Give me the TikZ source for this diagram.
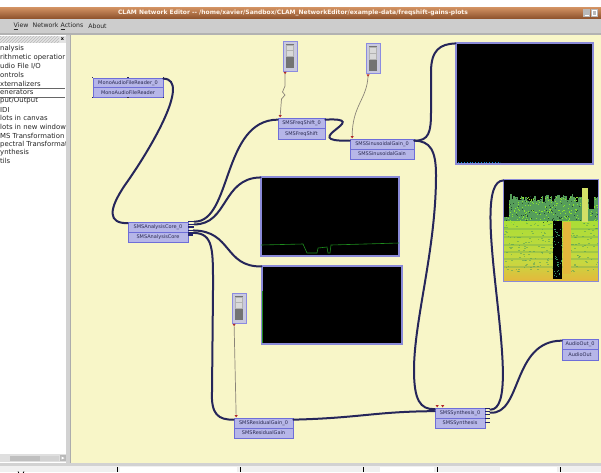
\documentclass[tikz,border=0pt]{standalone}
\usepackage{fontspec}
\setmainfont{DejaVu Sans}
\usetikzlibrary{calc,patterns}
\definecolor{canvas}{HTML}{F8F6C8}
\definecolor{wire}{HTML}{26265A}
\definecolor{pfill}{HTML}{B6B6E8}
\definecolor{pborder}{HTML}{6E6ED8}
\definecolor{ptext}{HTML}{2A2A50}
\definecolor{ctrlw}{HTML}{8A8478}
\definecolor{ctrlred}{HTML}{B02828}
\definecolor{tbtop}{HTML}{D49464}
\definecolor{tbbot}{HTML}{8E522C}
\definecolor{menubg}{HTML}{CDCDCD}
\definecolor{plotb}{HTML}{8A8AD8}
\definecolor{spgreen}{HTML}{3A9060}
\definecolor{spyel}{HTML}{C8D840}
\definecolor{sporange}{HTML}{E4B83C}
\definecolor{spdark}{HTML}{183828}
\definecolor{plotgreen}{HTML}{1E8C1E}
\begin{document}
\begin{tikzpicture}[x=1pt,y=-1pt,
  wire/.style={draw=wire,line width=2pt,line cap=round},
  ctrl/.style={draw=ctrlw,line width=0.7pt},
  proc/.style={draw=pborder,fill=pfill,line width=0.7pt,inner sep=0pt,text=ptext,font=\fontsize{5}{5}\selectfont,minimum height=10},
  plotbox/.style={fill=black,draw=plotb,line width=1.1pt,inner sep=0pt},
  slider/.style={fill=pfill!70!gray!60,draw=pborder!80,line width=0.8pt,inner sep=0pt,minimum width=14,minimum height=30},
  listitem/.style={anchor=west,inner sep=0pt,font=\fontsize{6.9}{7}\selectfont,text=black!85},
  menuitem/.style={inner sep=0pt,font=\fontsize{6.2}{7}\selectfont,text=black!85},
  ctri/.pic={\fill[ctrlred] (-1.6,-1.1) -- (1.6,-1.1) -- (0,1.3) -- cycle;},
  port/.style={fill=wire!90!blue}
]
\useasboundingbox (0,0) rectangle (601,472);
\fill[white] (0,0) rectangle (601,472);
% ---------- title bar ----------
\shade[top color=tbtop,bottom color=tbbot] (0,7) rectangle (601,18.5);
\node[inner sep=0pt,font=\fontsize{6}{7}\selectfont\bfseries,text=white!92!orange] (title) at (293,13)
  {CLAM Network Editor {-}{-} /home/xavier/Sandbox/CLAM\_NetworkEditor/example-data/freqshift-gains-plots};
\fill[gray!55] (583,9) rectangle (590,16.5);
\fill[gray!55] (591,9) rectangle (598,16.5);
\draw[white,line width=0.6] (584.5,15) -- (588.5,15);
\draw[white,line width=0.5] (592.5,10.5) rectangle (596.5,15);
% ---------- menu bar ----------
\fill[menubg] (0,18.5) rectangle (601,32.5);
\fill[gray!60] (0,32.5) rectangle (601,35);
\node[menuitem] (mview) at (21,26) {\underline{V}iew};
\node[menuitem] (mnet) at (58,26) {Network \underline{A}ctions};
\node[menuitem] (mabout) at (97.5,26) {About};
% ---------- left panel ----------
\fill[white] (0,35) rectangle (67,454);
\fill[gray!22] (0,36) rectangle (66,42.5);
\fill[pattern=north east lines,pattern color=gray!55] (0,36) rectangle (59,42.5);
\node[inner sep=0pt,font=\fontsize{5}{5}\selectfont\bfseries] (xbtn) at (62.5,39.3) {x};
\begin{scope}
\clip (0,35) rectangle (66,454);
\node[listitem] (l1) at (0,49) {nalysis};
\node[listitem] (l2) at (0,57.7) {rithmetic operatior};
\node[listitem] (l3) at (0,66.3) {udio File I/O};
\node[listitem] (l4) at (0,75) {ontrols};
\node[listitem] (l5) at (0,83.6) {xternalizers};
\node[listitem] (l6) at (0,92.3) {enerators};
\node[listitem] (l7) at (0,100.9) {put/Output};
\node[listitem] (l8) at (0,109.5) {IDI};
\node[listitem] (l9) at (0,118.2) {lots in canvas};
\node[listitem] (l10) at (0,126.8) {lots in new window};
\node[listitem] (l11) at (0,135.5) {MS Transformation};
\node[listitem] (l12) at (0,144.1) {pectral Transformation};
\node[listitem] (l13) at (0,152.8) {ynthesis};
\node[listitem] (l14) at (0,161.4) {tils};
\end{scope}
\draw[black!60,line width=0.6] (0,87.8) -- (65,87.8) (0,97) -- (65,97);
% panel scrollbar
\fill[gray!25] (0,454) rectangle (67,462);
\fill[gray!50] (10,455.5) rectangle (40,460.5);
\fill[gray!35] (40,455.5) rectangle (59,460.5);
\fill[gray!55] (60,455) rectangle (66,461);
\fill[white] (61.5,456.5) -- (64.5,458) -- (61.5,459.5) -- cycle;
% divider
\fill[gray!35] (66,35) rectangle (71,463);
\draw[gray!65,line width=0.6] (70.6,35) -- (70.6,463);
% ---------- canvas ----------
\fill[canvas] (71,35) rectangle (601,463);
% bottom status bar
\fill[gray!35] (0,463) rectangle (601,466);
\fill[gray!12] (0,466) rectangle (601,472);
\fill[white] (120,467) rectangle (237,472);
\fill[white] (380,467) rectangle (434,472);
\fill[white] (500,467) rectangle (557,472);
\foreach \xs in {117,240,363,437,560} \draw[black,line width=0.6] (\xs,467) -- (\xs,472);
\draw[black,line width=0.8] (18,471.5) arc (0:-180:-3 and -2.5);
% ---------- plots ----------
\node[plotbox,minimum width=137,minimum height=121] (p1) at (524.5,103.5) {};
\node[plotbox,minimum width=138,minimum height=79] (p2) at (330,216.5) {};
\node[plotbox,minimum width=140,minimum height=78] (p3) at (332,305) {};
\node[plotbox,minimum width=94,minimum height=101,fill=black] (p4) at (551,230.5) {};
\draw[cyan!70!blue,dotted,line width=0.8] ($(p1.south west)+(3,-2.5)$) -- ($(p1.south west)+(45,-2.5)$);
\draw[plotgreen,line width=0.6] ($(p2.west)+(0.5,28.5)$) -- (303,244) -- (307,253) -- (317,253) -- (318,248) -- (327,247) -- (328,253) -- (330,253) -- (331,245) -- ($(p2.east)+(-0.5,26.5)$);
\draw[plotgreen,line width=0.8] ($(p3.south west)+(1.2,-2)$) -- ($(p3.west)+(1.2,-14)$);
% spectrogram
\begin{scope}
\clip ($(p4.north west)+(0.6,0.6)$) rectangle ($(p4.south east)+(-0.6,-0.6)$);
\fill[black] (504,180) rectangle (598,281);
\pgfmathsetseed{11}
\foreach \i in {0,...,62}{
  \pgfmathsetmacro{\tp}{194+9*rnd}
  \fill[spgreen!80!spyel] (504+\i*1.5,\tp) rectangle (505.6+\i*1.5,224);
}
\shade[top color=spyel!85!green,bottom color=spyel] (504,221) rectangle (598,262);
\shade[top color=spyel,bottom color=sporange] (504,262) rectangle (598,281);
\foreach \yy in {228,236,244,251,258,266}
  \fill[spgreen!70!spyel,opacity=0.35] (504,\yy) rectangle (598,\yy+1.5);
\foreach \i in {1,...,220}{
  \pgfmathsetmacro{\xx}{504+94*rnd}\pgfmathsetmacro{\yy}{197+25*rnd}
  \fill[spyel!70!green] (\xx,\yy) rectangle ++(0.9,0.9);
}
\foreach \i in {1,...,90}{
  \pgfmathsetmacro{\xx}{504+94*rnd}\pgfmathsetmacro{\yy}{196+26*rnd}
  \fill[spdark,opacity=0.8] (\xx,\yy) rectangle ++(0.9,0.9);
}
\foreach \i in {1,...,200}{
  \pgfmathsetmacro{\xx}{504+94*rnd}\pgfmathsetmacro{\yy}{222+50*rnd}
  \fill[spgreen,opacity=0.45] (\xx,\yy) rectangle ++(1.8,0.8);
}
\fill[black] (504,196) rectangle (508.5,217);
\fill[black] (553,221) rectangle (562,279);
\foreach \i in {1,...,40}{
  \pgfmathsetmacro{\xx}{553+8*rnd}\pgfmathsetmacro{\yy}{222+55*rnd}
  \fill[spgreen] (\xx,\yy) rectangle ++(0.9,0.9);
}
\fill[sporange] (563,222) rectangle (571,274);
\fill[black] (577,184) rectangle (598,197);
\fill[spyel!80!white] (582,188) rectangle (588,222);
\fill[black] (589,197) rectangle (594,209);
\end{scope}
\draw[plotb,line width=1.1pt] (p4.north west) rectangle (p4.south east);
% ---------- sliders ----------
\foreach \s/\cx/\cy in {s1/290/56, s2/373/58.5, s3/239/308}{
  \node[slider] (\s) at (\cx,\cy) {};
  \fill[black!55] ($(\s.north west)+(3,3)$) rectangle ($(\s.south east)+(-3,-3)$);
  \fill[gray!30] ($(\s.north west)+(4,4.5)$) rectangle ($(\s.north east)+(-4,16)$);
  \draw[gray!60,line width=0.5] ($(\s.north west)+(4,10)$) -- ($(\s.north east)+(-4,10)$);
  \draw[gray!60,line width=0.5] ($(\s.north west)+(4,4.5)$) rectangle ($(\s.north east)+(-4,16)$);
}
% ---------- processing boxes ----------
\node[proc,minimum width=70,minimum height=9.5] (mr) at (128,82.75) {MonoAudioFileReader\_0};
\node[proc,minimum width=70,minimum height=9.5] (mrT) at (128,92.25) {MonoAudioFileReader};
\node[proc,minimum width=47,minimum height=10.5] (fs) at (301.5,123.25) {SMSFreqShift\_0};
\node[proc,minimum width=47,minimum height=10.5] (fsT) at (301.5,133.75) {SMSFreqShift};
\node[proc,minimum width=64] (sg) at (382,144) {SMSSinusoidalGain\_0};
\node[proc,minimum width=64] (sgT) at (382,154) {SMSSinusoidalGain};
\node[proc,minimum width=60] (ac) at (158,227) {SMSAnalysisCore\_0};
\node[proc,minimum width=60] (acT) at (158,237) {SMSAnalysisCore};
\node[proc,minimum width=59] (rg) at (263.5,423) {SMSResidualGain\_0};
\node[proc,minimum width=59] (rgT) at (263.5,433) {SMSResidualGain};
\node[proc,minimum width=50] (sy) at (460,413) {SMSSynthesis\_0};
\node[proc,minimum width=50] (syT) at (460,423) {SMSSynthesis};
\node[proc,minimum width=36,minimum height=10.5] (ao) at (580,344.25) {AudioOut\_0};
\node[proc,minimum width=36,minimum height=10.5] (aoT) at (580,354.75) {AudioOut};
% selection handles
\foreach \a in {north west,north,north east}{\fill[ptext] ($(mr.\a)+(-0.8,-0.8)$) rectangle ++(1.6,1.6);}
\foreach \a in {south west,south,south east}{\fill[ptext] ($(mrT.\a)+(-0.8,-0.8)$) rectangle ++(1.6,1.6);}
% ports on SMSAnalysisCore
\foreach \dy/\len in {0/6,2.7/6,5.2/6,8.8/5,11.2/5,13.3/5}
  \fill[port] ($(ac.north east)+(0,\dy-0.8)$) rectangle ++(\len,1.6);
% ports on SMSSynthesis
\foreach \dy in {1,4,7,11,15}
  \fill[port] ($(sy.north east)+(0,\dy-0.8)$) rectangle ++(5,1.6);
% ---------- port coordinates ----------
\coordinate (mrO) at ($(mr.north east)+(0,1)$);
\coordinate (acI) at ($(ac.north west)+(0,1.5)$);
\coordinate (acO1) at ($(ac.north east)+(6,0)$);
\coordinate (acO2) at ($(ac.north east)+(6,2.7)$);
\coordinate (acO4) at ($(ac.north east)+(5,8.8)$);
\coordinate (acO5) at ($(ac.north east)+(5,11.2)$);
\coordinate (fsI) at ($(fs.north west)+(0,2)$);
\coordinate (fsO) at ($(fs.north east)+(0,2)$);
\coordinate (sgI) at ($(sg.north west)+(0,2)$);
\coordinate (sgO) at ($(sg.north east)+(0,2)$);
\coordinate (rgI) at ($(rg.north west)+(0,2)$);
\coordinate (rgO) at ($(rg.north east)+(0,2)$);
\coordinate (syI1) at ($(sy.north west)+(0,1.5)$);
\coordinate (syI2) at ($(sy.north west)+(0,3.5)$);
\coordinate (syO1) at ($(sy.north east)+(5,2)$);
\coordinate (syO2) at ($(sy.north east)+(5,5)$);
\coordinate (aoI) at ($(ao.north west)+(0,2)$);
\coordinate (p1I) at ($(p1.north west)+(0,1)$);
\coordinate (p2I) at ($(p2.north west)+(0,1)$);
\coordinate (p3I) at ($(p3.north west)+(0,1)$);
\coordinate (p4I) at ($(p4.north west)+(0,1)$);
% ---------- audio connections ----------
\draw[wire] (mrO) .. controls (192,79) and (150,150) .. (125,185) .. controls (108,210) and (108,223.5) .. (acI);
\draw[wire] (acO1) .. controls (232,222) and (222,120) .. (fsI);
\draw[wire] (acO2) .. controls (228,224.7) and (222,178) .. (p2I);
\draw[wire] (acO4) .. controls (232,230.8) and (224,267) .. (p3I);
\draw[wire] (acO5) .. controls (214,233.2) and (213,250) .. (213,290) -- (212,392) .. controls (211,414) and (218,420) .. (rgI);
\draw[wire] (fsO) .. controls (376,117) and (294,142) .. (sgI);
\draw[wire] (sgO) .. controls (429,141) and (431,132) .. (431,112) -- (431,72) .. controls (431,50) and (440,44) .. (p1I);
\draw[wire] (sgO) .. controls (430,141) and (436,150) .. (436,175) .. controls (436,250) and (414,320) .. (414,370) .. controls (414,400) and (420,409.5) .. (syI1);
\draw[wire] (rgO) .. controls (360,418) and (375,411.5) .. (syI2);
\draw[wire] (syO2) .. controls (522,415) and (512,341) .. (aoI);
\draw[wire] (syO1) .. controls (528,410) and (465,181) .. (p4I);
% ---------- control connections ----------
\coordinate (s1o) at ($(s1.south west)+(2.5,1.5)$);
\coordinate (s2o) at ($(s2.south west)+(2.5,1.5)$);
\coordinate (s3o) at ($(s3.south west)+(2.5,1.5)$);
\coordinate (fsC) at ($(fs.north west)+(2.5,-1.5)$);
\coordinate (sgC) at ($(sg.north west)+(2.5,-1.5)$);
\coordinate (rgC) at ($(rg.north west)+(2.5,-1.5)$);
\coordinate (syC1) at ($(sy.north west)+(2.5,-1.5)$);
\coordinate (syC2) at ($(sy.north west)+(8,-1.5)$);
\draw[ctrl] (s1o) -- (285,86) -- (282.5,92) -- (285,95) -- (281.5,99) -- (fsC);
\draw[ctrl] (s2o) .. controls (367,100) and (352,105) .. (sgC);
\draw[ctrl] (s3o) -- (rgC);
\foreach \c in {s1o,s2o,s3o,fsC,sgC,rgC,syC1,syC2} \pic at (\c) {ctri};
\end{tikzpicture}
\end{document}
